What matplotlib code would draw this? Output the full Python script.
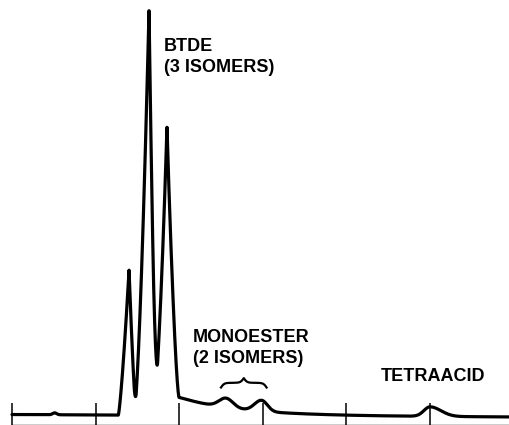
import numpy as np
import matplotlib
matplotlib.use("Agg")
import matplotlib.pyplot as plt

# Retention in chart divisions, response in % of full scale.
# BTDE isomers: sharp, nearly triangular peaks (half-base widths left/right)
btde_pos = [1.400, 1.639, 1.854]
btde_height = [34.3, 95.8, 67.4]
btde_halfbase_left = [0.128, 0.179, 0.166]
btde_halfbase_right = [0.085, 0.103, 0.144]
btde_shape_power = [1.3, 1.5, 1.5]

# Smaller, rounded peaks (Gaussian, split widths)
minor_names = ["impurity", "monoester-1", "monoester-2", "tetraacid"]
minor_pos = [0.51, 2.560, 2.985, 5.000]
minor_height = [0.45, 2.2, 2.6, 2.25]
minor_sigma_left = [0.024, 0.084, 0.084, 0.072]
minor_sigma_right = [0.024, 0.084, 0.070, 0.130]

# Baseline at start / end of the run and the tail behind the BTDE group
baseline_start = 2.0
baseline_end = 1.42
tail_start = 1.89
tail_amp = 5.0
tail_tau = 0.706

division_ticks = [0, 1, 2, 3, 4, 5]
x_end = 5.957

labels = ["BTDE\n(3 ISOMERS)", "MONOESTER\n(2 ISOMERS)", "TETRAACID"]


def detector_signal(x):
    y = baseline_start + (baseline_end - baseline_start) * x / x_end
    for p, h, al, ar, k in zip(btde_pos, btde_height, btde_halfbase_left,
                               btde_halfbase_right, btde_shape_power):
        a = np.where(x < p, al, ar)
        y = y + h * np.clip(1 - np.abs(x - p) / a, 0, None) ** k
    for p, h, sl, sr in zip(minor_pos, minor_height, minor_sigma_left,
                            minor_sigma_right):
        s = np.where(x < p, sl, sr)
        y = y + h * np.exp(-0.5 * ((x - p) / s) ** 2)
    step = 1.0 / (1.0 + np.exp(-(x - tail_start) / 0.024))
    y = y + tail_amp * np.exp(-np.clip(x - tail_start, 0, None) / tail_tau) * step
    return y


def brace(ax, x0, x1, y0, h, **kw):
    xm = 0.5 * (x0 + x1)
    b = 14.0 / (xm - x0)
    u = np.linspace(x0, xm, 200)
    yl = 1 / (1 + np.exp(-b * (u - x0))) + 1 / (1 + np.exp(-b * (u - xm))) - 0.5
    xs = np.concatenate([u, (x0 + x1) - u[::-1]])
    ys = np.concatenate([yl, yl[::-1]])
    ax.plot(xs, y0 + h * ys, **kw)


fig = plt.figure(figsize=(5.10, 4.25), dpi=100)
ax = fig.add_axes([0, 0, 1, 1])
ax.set_xlim(-12 / 83.6, x_end)
ax.set_ylim(-2 / 4.23, 100)

x = np.linspace(0, x_end, 8000)
ax.plot(x, detector_signal(x), color="black", lw=2.3, solid_capstyle="round",
        solid_joinstyle="round")

for side in ["top", "left", "right"]:
    ax.spines[side].set_visible(False)
ax.spines["bottom"].set_bounds(0, x_end)
ax.spines["bottom"].set_linewidth(1.0)
ax.set_yticks([])
ax.set_xticks(division_ticks)
ax.set_xticks(np.arange(0, x_end, 0.1), minor=True)
ax.tick_params(axis="x", which="major", direction="in", length=16, width=1.1,
               labelbottom=False)
ax.tick_params(axis="x", which="minor", direction="out", length=3, width=0.8)

font = dict(family=["Liberation Sans", "DejaVu Sans"], fontsize=13,
            fontweight="bold", color="black")
ax.text(1.818, 91.0, labels[0], va="top", ha="left", linespacing=1.3, **font)
ax.text(2.165, 22.3, labels[1], va="top", ha="left", linespacing=1.3, **font)
ax.text(4.414, 13.0, labels[2], va="top", ha="left", **font)

brace(ax, minor_pos[1] - 0.06, minor_pos[2] + 0.06, 8.4, 2.2,
      color="black", lw=1.6)

fig.savefig("out.png", dpi=100)
